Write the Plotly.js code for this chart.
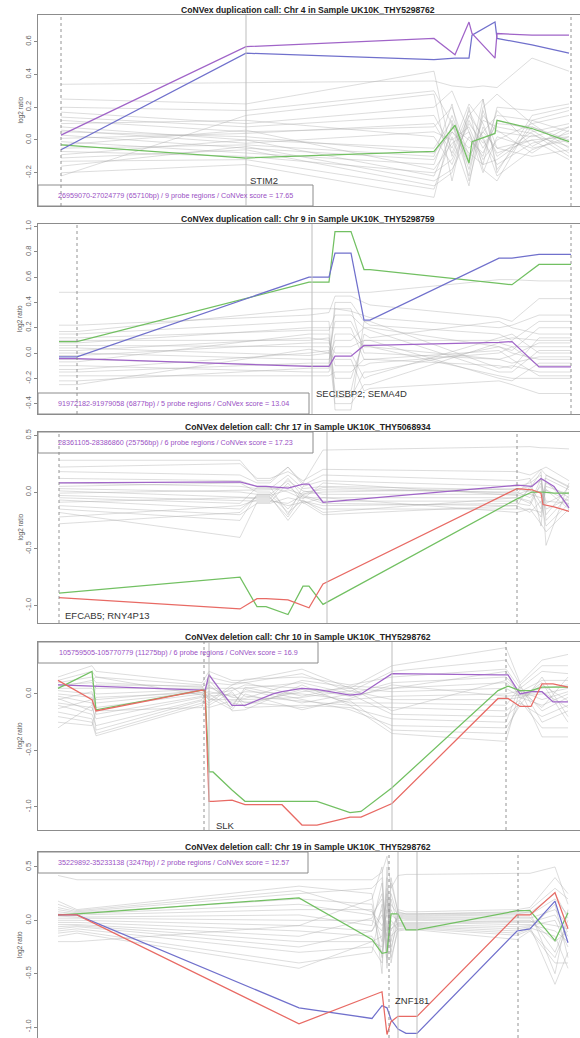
<!DOCTYPE html>
<html><head><meta charset="utf-8">
<script src="https://cdn.plot.ly/plotly-3.0.1.min.js"></script>
<style>html,body{margin:0;padding:0;overflow:hidden;background:#fff;width:580px;height:1038px}</style>
</head><body><div id="chart" style="width:582px;height:1038px"></div>
<script>
// ---------------- Panel 1: Chr 4 duplication ----------------
const p1Title = "CoNVex duplication call: Chr 4 in Sample UK10K_THY5298762";
const p1Info = "26959070-27024779 (65710bp) / 9 probe regions / CoNVex score = 17.65";
const p1Gene = "STIM2";
const p1X = [23,208,396,417,431,434,457,459,494,531];
const p1Purple = [0.03,0.57,0.62,0.52,0.72,0.65,0.50,0.65,0.64,0.64];
const p1Blue = [-0.06,0.53,0.49,0.50,0.50,0.64,0.72,0.62,0.58,0.53];
const p1Green = [-0.03,-0.11,-0.07,0.09,-0.14,-0.01,0.04,0.12,0.07,-0.01];
const p1GreyX = [23,208,396,414,431,445,459,494,531];
const p1Grey = [
 [0.34,0.35,0.36,0.33,0.32,0.33,0.32,0.50,0.42],
 [0.25,0.22,0.42,-0.10,0.15,0.25,-0.20,0.15,0.20],
 [0.20,0.18,0.30,0.10,-0.22,0.20,0.28,0.10,0.15],
 [0.17,0.10,0.20,0.30,0.05,-0.15,0.20,0.18,0.22],
 [0.14,0.08,0.15,-0.05,0.22,0.10,-0.10,0.05,0.10],
 [0.12,0.05,0.08,0.20,-0.10,0.05,0.15,0.12,0.05],
 [0.10,0.12,0.02,-0.15,0.12,-0.05,0.10,0.08,0.00],
 [0.08,0.00,-0.05,0.12,-0.18,0.15,0.05,0.02,0.08],
 [0.06,-0.02,0.05,0.00,0.08,-0.12,0.00,0.10,-0.05],
 [0.05,0.02,-0.08,0.05,-0.05,0.05,-0.05,0.00,0.02],
 [0.03,-0.05,-0.12,0.08,0.00,-0.08,0.12,0.06,-0.08],
 [0.01,0.04,0.10,-0.08,0.18,0.00,-0.15,-0.02,0.04],
 [-0.01,-0.08,-0.15,0.15,-0.12,0.12,0.08,0.04,-0.10],
 [-0.03,0.06,-0.18,-0.02,0.05,-0.20,0.02,-0.05,0.00],
 [-0.05,-0.03,-0.10,0.22,-0.25,0.08,-0.08,0.00,-0.12],
 [-0.07,-0.10,-0.20,-0.12,0.10,-0.02,0.06,-0.08,0.06],
 [-0.09,0.00,-0.22,0.05,-0.08,-0.15,-0.12,0.03,-0.04],
 [-0.11,-0.06,-0.28,-0.20,0.15,0.02,-0.22,-0.06,0.02],
 [-0.13,-0.12,-0.30,0.02,-0.28,0.18,-0.05,-0.10,-0.06],
 [-0.16,-0.04,-0.25,-0.18,0.02,-0.10,0.18,-0.04,0.08],
 [-0.20,-0.15,-0.35,0.10,-0.15,0.25,-0.18,0.08,-0.02],
 [-0.22,0.15,0.28,-0.25,0.20,-0.18,-0.25,0.12,0.18]
];
const p1Dashed = [23,533];
const p1Solid = [208];
const p1Ticks = [-0.2,0,0.2,0.4,0.6];
const p1TickText = ["-0.2","0.0","0.2","0.4","0.6"];

// ---------------- Panel 2: Chr 9 duplication ----------------
const p2Title = "CoNVex duplication call: Chr 9 in Sample UK10K_THY5298759";
const p2Info = "91972182-91979058 (6877bp) / 5 probe regions / CoNVex score = 13.04";
const p2Gene = "SECISBP2; SEMA4D";
const p2X = [21,39,271,291,297,313,326,332,461,474,501,533];
const p2Blue = [-0.03,-0.03,0.60,0.60,0.79,0.79,0.26,0.26,0.75,0.75,0.78,0.78];
const p2Green = [0.09,0.09,0.56,0.56,0.96,0.96,0.66,0.66,0.55,0.54,0.70,0.70];
const p2Purple = [-0.045,-0.045,-0.105,-0.105,-0.025,-0.025,0.06,0.06,0.085,0.09,-0.11,-0.11];
const p2GreyX = p2X;
const p2Grey = [
 [0.48,0.48,0.48,0.48,0.48,0.48,0.48,0.48,0.58,0.58,0.57,0.57],
 [0.22,0.22,0.30,0.32,0.45,0.45,0.40,0.38,0.28,0.25,0.43,0.43],
 [0.17,0.17,0.35,0.35,0.35,0.33,0.30,0.28,0.20,0.22,0.30,0.30],
 [0.15,0.15,0.25,0.25,-0.45,-0.45,0.25,0.22,0.15,0.10,0.25,0.25],
 [0.12,0.12,0.18,0.18,0.30,0.30,0.20,0.20,0.05,0.02,0.20,0.20],
 [0.10,0.10,0.10,0.12,-0.30,-0.30,0.15,0.12,0.25,0.20,0.15,0.15],
 [0.08,0.08,0.20,0.20,0.20,0.20,-0.05,-0.05,-0.10,-0.12,0.12,0.12],
 [0.06,0.06,0.05,0.05,-0.20,-0.20,0.10,0.10,0.10,0.12,0.10,0.10],
 [0.04,0.04,-0.02,0.00,0.25,0.25,0.05,0.05,-0.05,-0.02,0.08,0.08],
 [0.02,0.02,0.12,0.10,-0.10,-0.10,-0.10,-0.08,0.00,0.05,0.05,0.05],
 [0.00,0.00,-0.05,-0.05,0.10,0.10,0.20,0.18,-0.15,-0.15,0.02,0.02],
 [-0.02,-0.02,0.08,0.08,0.00,0.00,-0.20,-0.18,0.12,0.15,0.00,0.00],
 [-0.05,-0.05,-0.10,-0.10,0.35,0.35,0.00,0.00,-0.05,-0.08,-0.03,-0.03],
 [-0.07,-0.07,0.15,0.15,-0.35,-0.35,-0.15,-0.15,0.05,0.00,-0.05,-0.05],
 [-0.10,-0.10,-0.15,-0.15,0.05,0.05,0.10,0.10,-0.20,-0.22,-0.08,-0.08],
 [-0.13,-0.13,0.00,0.02,-0.40,-0.40,-0.25,-0.25,0.08,0.05,-0.10,-0.10],
 [-0.15,-0.15,-0.08,-0.08,0.40,0.40,0.25,0.25,-0.12,-0.10,-0.15,-0.15],
 [-0.18,-0.18,-0.18,-0.18,-0.15,-0.15,-0.05,-0.05,0.02,-0.05,-0.18,-0.18],
 [-0.22,-0.22,-0.12,-0.12,0.15,0.15,0.05,0.05,-0.18,-0.20,-0.20,-0.20],
 [-0.25,-0.25,0.03,0.00,-0.05,-0.05,-0.30,-0.28,-0.22,-0.25,-0.32,-0.32]
];
const p2Dashed = [39,533];
const p2Solid = [274];
const p2Ticks = [-0.4,-0.2,0,0.2,0.4,0.6,0.8,1.0];
const p2TickText = ["-0.4","-0.2","0.0","0.2","0.4","0.6","0.8","1.0"];

// ---------------- Panel 3: Chr 17 deletion ----------------
const p3Title = "CoNVex deletion call: Chr 17 in Sample UK10K_THY5068934";
const p3Info = "28361105-28386860 (25756bp) / 6 probe regions / CoNVex score = 17.23";
const p3Gene = "EFCAB5; RNY4P13";
const p3X = [21,202,219,228,250,265,271,285,479,494,503,505,516,531];
const p3Red = [-0.93,-1.03,-0.94,-0.94,-0.95,-1.00,-1.02,-0.81,0.03,0.02,-0.01,-0.11,-0.13,-0.17];
const p3Green = [-0.89,-0.75,-1.01,-1.01,-1.08,-0.83,-0.83,-0.99,-0.06,0.00,0.00,0.00,-0.01,-0.01];
const p3Purple = [0.08,0.09,0.05,0.05,0.035,0.07,0.07,-0.09,0.06,0.05,0.12,0.11,0.05,-0.14];
const p3GreyX = [21,202,219,232,250,265,285,479,492,503,508,531];
const p3Grey = [
 [0.28,0.28,0.10,0.10,0.22,0.08,0.37,0.40,0.40,0.39,0.39,0.38],
 [0.22,0.25,0.12,0.12,0.18,0.10,0.20,0.18,0.15,0.20,0.22,0.10],
 [0.18,0.15,0.08,0.08,0.22,0.06,0.15,0.10,0.12,-0.30,0.15,0.05],
 [0.12,0.10,0.05,0.05,-0.20,0.05,0.10,0.05,0.08,0.15,-0.47,0.08],
 [0.08,0.05,0.03,0.03,0.15,0.03,0.05,0.02,0.05,0.10,0.12,0.02],
 [0.05,0.08,0.00,0.00,-0.15,0.00,0.02,0.00,-0.05,0.05,-0.20,0.05],
 [0.03,0.00,-0.02,-0.02,0.10,0.01,-0.02,-0.02,0.02,-0.15,0.05,-0.02],
 [0.01,-0.05,-0.05,-0.05,-0.22,-0.02,0.00,0.03,0.00,0.00,-0.10,0.00],
 [-0.01,0.02,0.02,0.02,0.05,-0.05,-0.05,-0.05,-0.08,-0.22,0.08,-0.05],
 [-0.03,-0.08,-0.08,-0.08,-0.10,-0.03,-0.08,-0.08,0.03,0.18,-0.25,-0.03],
 [-0.05,-0.10,0.04,0.04,0.00,-0.06,0.08,-0.03,-0.02,-0.05,0.02,-0.08],
 [-0.07,-0.15,-0.04,-0.04,-0.25,-0.08,-0.12,-0.10,-0.12,0.08,-0.08,-0.10],
 [-0.09,-0.05,-0.06,-0.06,0.12,-0.04,-0.10,-0.12,0.05,-0.10,0.10,-0.12],
 [-0.12,-0.20,-0.10,-0.10,-0.05,-0.08,-0.15,-0.15,-0.15,-0.28,-0.35,-0.15],
 [-0.15,-0.25,-0.02,-0.02,-0.18,-0.07,-0.18,-0.05,-0.10,0.12,-0.15,-0.06],
 [-0.18,-0.40,-0.09,-0.09,0.08,-0.10,-0.05,-0.18,-0.15,-0.18,0.02,-0.15],
 [-0.22,-0.12,-0.07,-0.07,-0.12,-0.09,-0.20,-0.12,-0.18,-0.08,-0.30,-0.10],
 [-0.28,-0.18,-0.03,-0.03,0.02,-0.02,0.04,-0.01,0.10,0.20,0.15,0.04]
];
const p3Dashed = [21,479];
const p3Solid = [289];
const p3Ticks = [-1.0,-0.5,0,0.5];
const p3TickText = ["-1.0","-0.5","0.0","0.5"];

// ---------------- Panel 4: Chr 10 deletion ----------------
const p4Title = "CoNVex deletion call: Chr 10 in Sample UK10K_THY5298762";
const p4Info = "105759505-105770779 (11275bp) / 6 probe regions / CoNVex score = 16.9";
const p4Gene = "SLK";
const p4X = [20,54,58,164,167,171,175,194,207,235,244,264,279,312,323,354,460,470,482,493,504,515,530];
const p4Red = [0.12,-0.05,-0.15,0.035,0.03,-0.95,-0.95,-0.94,-0.98,-0.98,-0.98,-1.16,-1.16,-1.09,-1.09,-0.97,-0.04,-0.04,-0.11,-0.11,0.09,0.09,0.06];
const p4Green = [0.05,0.20,-0.14,0.035,0.03,-0.69,-0.69,-0.85,-0.95,-0.95,-0.95,-0.95,-0.95,-1.05,-1.04,-0.83,0.03,0.07,0.03,0.03,0.06,0.06,0.06];
const p4Purple = [0.08,0.07,0.07,0.035,0.03,0.17,0.12,-0.10,-0.10,0.00,0.02,0.05,0.04,-0.01,0.00,0.18,0.17,0.17,0.00,0.02,0.02,-0.07,-0.07];
const p4GreyX = [20,54,58,164,171,194,207,264,312,354,468,482,504,530];
const p4Grey = [
 [0.15,0.25,0.20,0.10,0.20,0.12,0.12,0.22,0.05,0.25,0.41,0.10,0.30,0.35],
 [0.12,0.20,0.15,0.08,0.15,0.10,0.10,0.18,0.02,0.20,0.30,0.08,0.25,0.25],
 [0.10,0.15,0.10,0.06,0.10,0.08,0.13,0.15,0.08,0.15,0.22,0.05,0.20,0.18],
 [0.08,0.10,0.05,0.05,0.05,0.05,0.05,0.10,0.00,0.10,0.15,0.02,0.12,0.12],
 [0.05,0.05,0.00,0.04,0.00,0.03,0.08,0.05,-0.02,0.05,0.10,0.00,0.05,0.08],
 [0.03,0.00,-0.05,0.03,-0.02,0.00,-0.08,0.02,0.05,0.02,0.05,-0.02,0.00,0.05],
 [0.00,-0.03,-0.08,0.02,0.02,-0.02,0.02,0.00,-0.05,-0.02,0.00,0.03,-0.05,0.02],
 [-0.02,-0.08,-0.12,0.00,-0.05,-0.05,-0.05,-0.03,0.03,-0.05,-0.05,-0.03,-0.10,0.00],
 [-0.05,0.02,-0.18,-0.02,0.08,-0.08,-0.10,0.04,-0.08,-0.08,-0.10,0.06,-0.15,-0.03],
 [-0.08,-0.12,-0.22,-0.03,-0.08,0.06,-0.02,-0.06,-0.10,-0.12,-0.15,-0.05,0.08,-0.06],
 [-0.10,-0.18,-0.28,-0.05,0.12,-0.10,0.04,-0.08,0.00,-0.18,-0.20,-0.08,-0.20,-0.10],
 [-0.13,-0.05,-0.32,-0.06,-0.10,0.02,-0.12,-0.10,-0.12,-0.22,-0.25,0.08,-0.25,-0.15],
 [-0.16,-0.22,-0.35,-0.08,0.00,-0.12,0.06,-0.05,-0.14,-0.28,-0.30,-0.10,0.15,-0.20],
 [-0.20,-0.25,-0.37,-0.10,-0.12,-0.06,-0.07,-0.12,-0.06,-0.32,-0.35,-0.06,-0.30,-0.30],
 [-0.25,-0.28,-0.15,-0.12,0.18,-0.15,-0.14,0.08,-0.10,-0.35,-0.42,0.04,-0.38,-0.38],
 [-0.30,-0.10,0.08,0.07,-0.06,0.08,0.10,-0.02,0.07,0.05,0.20,-0.04,0.10,-0.25],
 [0.06,0.12,0.15,-0.01,0.06,-0.03,-0.04,0.12,0.06,-0.15,0.12,0.02,-0.12,0.15],
 [-0.04,-0.15,-0.03,0.01,-0.03,-0.14,0.00,-0.14,-0.04,0.08,-0.02,-0.01,0.02,-0.12]
];
const p4Dashed = [166,468];
const p4Solid = [171,354];
const p4Ticks = [-1.0,-0.5,0];
const p4TickText = ["-1.0","-0.5","0.0"];

// ---------------- Panel 5: Chr 19 deletion ----------------
const p5Title = "CoNVex deletion call: Chr 19 in Sample UK10K_THY5298762";
const p5Info = "35229892-35233138 (3247bp) / 2 probe regions / CoNVex score = 12.57";
const p5Gene = "ZNF181";
const p5X = [20,39,261,334,344,349,353,360,368,379,479,492,517,530];
const p5Red = [0.05,0.05,-0.97,-0.71,-0.67,-1.07,-0.95,-0.90,-0.90,-0.90,0.05,0.05,0.26,-0.08];
const p5Blue = [0.05,0.05,-0.82,-0.92,-0.80,-0.82,-0.93,-1.02,-1.06,-1.06,-0.10,-0.08,0.18,-0.21];
const p5Green = [0.05,0.06,0.21,-0.18,-0.31,-0.30,0.06,0.06,-0.09,-0.09,0.09,0.09,-0.19,0.07];
const p5GreyX = p5X;
const p5Grey = [
 [0.42,0.38,0.38,0.38,0.45,0.60,0.30,0.42,0.43,0.43,0.44,0.44,0.50,0.15],
 [0.18,0.10,0.32,0.25,-0.50,0.50,-0.20,0.10,0.08,0.08,0.10,0.12,0.40,0.25],
 [0.12,0.08,0.25,0.30,0.40,-0.45,0.35,0.08,0.06,0.06,0.08,0.10,0.30,0.20],
 [0.10,0.07,0.20,0.15,-0.35,0.30,-0.30,0.06,0.05,0.05,0.06,0.08,-0.50,0.10],
 [0.08,0.06,0.15,0.05,0.20,-0.30,0.15,0.05,0.04,0.04,0.05,0.05,0.20,0.05],
 [0.06,0.05,0.10,0.10,-0.20,0.10,-0.10,0.04,0.03,0.03,0.03,0.03,-0.30,0.00],
 [0.04,0.03,0.05,-0.05,0.35,-0.20,0.25,0.03,0.02,0.02,0.02,0.02,0.10,-0.05],
 [0.02,0.02,0.00,0.00,-0.10,0.20,-0.05,0.02,0.01,0.01,0.00,0.00,-0.20,-0.10],
 [0.00,0.00,-0.05,-0.10,0.10,-0.40,0.05,0.00,0.00,0.00,-0.02,-0.02,0.05,-0.15],
 [-0.02,-0.02,-0.10,-0.15,-0.30,0.00,-0.25,-0.02,-0.02,-0.02,-0.04,-0.04,-0.10,-0.20],
 [-0.04,-0.04,-0.15,0.02,0.25,-0.10,0.10,-0.04,-0.04,-0.04,-0.06,-0.05,0.00,-0.25],
 [-0.06,-0.05,-0.20,-0.20,-0.25,0.40,-0.40,-0.05,-0.05,-0.05,-0.08,-0.06,-0.60,-0.30],
 [-0.08,-0.06,-0.25,-0.10,0.05,-0.15,0.20,-0.06,-0.06,-0.06,-0.10,-0.07,-0.15,-0.45],
 [-0.10,-0.08,-0.30,-0.25,-0.40,0.15,-0.15,-0.08,-0.07,-0.07,-0.12,-0.08,0.15,-0.35],
 [-0.12,-0.10,-0.40,-0.30,0.15,-0.25,0.00,-0.09,-0.08,-0.08,-0.14,-0.09,-0.35,-0.05],
 [-0.15,-0.12,-0.45,-0.20,-0.15,0.25,-0.35,-0.10,-0.09,-0.09,-0.18,-0.10,-0.40,-0.40],
 [-0.20,-0.20,-0.05,0.20,0.50,-0.35,0.40,0.07,0.06,0.06,0.07,0.07,0.25,0.02],
 [0.15,0.09,0.28,0.08,-0.05,0.05,-0.08,-0.03,-0.03,-0.03,-0.01,-0.01,-0.05,-0.08]
];
const p5Dashed = [351,480];
const p5Solid = [360,379];
const p5Ticks = [-1.0,-0.5,0,0.5];
const p5TickText = ["-1.0","-0.5","0.0","0.5"];

// ---------------- styling / layout ----------------
const COL = {purple:'#a064c8', blue:'#7070cc', green:'#72c062', red:'#e86a64', grey:'rgba(175,175,175,0.42)'};
const FONT = 'Liberation Sans, Arial, Helvetica, sans-serif';
const H = 1038;
const PW = 544; // plot width in px (38..582, right edge just outside the 580 window)
const panels = [
  {title:p1Title, info:p1Info, gene:p1Gene, x:p1X, greyX:p1GreyX, grey:p1Grey,
   lines:[[p1Green,'green'],[p1Blue,'blue'],[p1Purple,'purple']],
   dashed:p1Dashed, solid:p1Solid, ticks:p1Ticks, tickText:p1TickText,
   top:15, bottom:206, range:[-0.403,0.763], infoTop:false, infoW:275, geneY:-0.245, geneShift:2},
  {title:p2Title, info:p2Info, gene:p2Gene, x:p2X, greyX:p2GreyX, grey:p2Grey,
   lines:[[p2Purple,'purple'],[p2Green,'green'],[p2Blue,'blue']],
   dashed:p2Dashed, solid:p2Solid, ticks:p2Ticks, tickText:p2TickText,
   top:224, bottom:414, range:[-0.482,1.02], infoTop:false, infoW:271, geneY:-0.316, geneShift:2},
  {title:p3Title, info:p3Info, gene:p3Gene, x:p3X, greyX:p3GreyX, grey:p3Grey,
   lines:[[p3Purple,'purple'],[p3Green,'green'],[p3Red,'red']],
   dashed:p3Dashed, solid:p3Solid, ticks:p3Ticks, tickText:p3TickText,
   top:432, bottom:623, range:[-1.154,0.529], infoTop:true, infoW:275, geneY:-1.084, geneShift:4},
  {title:p4Title, info:p4Info, gene:p4Gene, x:p4X, greyX:p4GreyX, grey:p4Grey,
   lines:[[p4Purple,'purple'],[p4Green,'green'],[p4Red,'red']],
   dashed:p4Dashed, solid:p4Solid, ticks:p4Ticks, tickText:p4TickText,
   top:642, bottom:830, range:[-1.204,0.46], infoTop:true, infoW:280, geneY:-1.16, geneShift:5},
  {title:p5Title, info:p5Info, gene:p5Gene, x:p5X, greyX:p5GreyX, grey:p5Grey,
   lines:[[p5Green,'green'],[p5Blue,'blue'],[p5Red,'red']],
   dashed:p5Dashed, solid:p5Solid, ticks:p5Ticks, tickText:p5TickText,
   top:852, bottom:1038, range:[-1.103,0.64], infoTop:true, infoW:270, geneY:-0.747, geneShift:4}
];
const geneX = [p1Solid[0], p2Solid[0], p3Dashed[0], p4Solid[0], p5Dashed[0]];

const traces = [];
const layout = {
  width:582, height:H, margin:{l:38,r:0,t:0,b:0}, showlegend:false,
  paper_bgcolor:'#ffffff', plot_bgcolor:'#ffffff', font:{family:FONT},
  shapes:[], annotations:[]
};

panels.forEach((p,i)=>{
  const n = i+1, sx = n===1?'':String(n);
  const xa = 'x'+sx, ya = 'y'+sx;
  p.grey.forEach(row=>{
    traces.push({type:'scatter', mode:'lines', x:p.greyX, y:row, xaxis:xa, yaxis:ya,
      line:{color:COL.grey, width:1}, hoverinfo:'skip'});
  });
  p.lines.forEach(([vals,c])=>{
    traces.push({type:'scatter', mode:'lines', x:p.x, y:vals, xaxis:xa, yaxis:ya,
      line:{color:COL[c], width:1.25}});
  });
  const dom = [1 - p.bottom/H, 1 - p.top/H];
  layout['xaxis'+sx] = {domain:[0,1], range:[0,PW], anchor:ya, showline:true, mirror:true,
    linecolor:'#8c8c8c', linewidth:1, showticklabels:false, ticks:'', showgrid:false, zeroline:false, fixedrange:true};
  layout['yaxis'+sx] = {domain:dom, range:p.range, anchor:xa, showline:true, mirror:true,
    linecolor:'#8c8c8c', linewidth:1, showgrid:false, zeroline:false, tickvals:p.ticks, ticktext:p.tickText,
    ticks:'outside', ticklen:3, tickcolor:'#888', tickangle:-90, automargin:false,
    tickfont:{size:7.5, color:'#666', family:FONT}};
  // info box
  const h = 21/(p.bottom-p.top);
  const w = p.infoW/PW;
  const y0 = p.infoTop ? 1-h : 0, y1 = p.infoTop ? 1 : h;
  layout.shapes.push({type:'rect', xref:xa+' domain', yref:ya+' domain', x0:0, x1:w, y0:y0, y1:y1,
    line:{color:'#8c8c8c', width:1}, fillcolor:'#ffffff', layer:'above'});
  p.solid.forEach(v=>layout.shapes.push({type:'line', xref:xa, yref:ya+' domain', x0:v, x1:v, y0:0, y1:1,
    line:{color:'#bdbdbd', width:1}, layer:'above'}));
  p.dashed.forEach(v=>layout.shapes.push({type:'line', xref:xa, yref:ya+' domain', x0:v, x1:v, y0:0, y1:1,
    line:{color:'#888', width:0.9, dash:'dot'}, layer:'above'}));
  layout.annotations.push({xref:xa+' domain', yref:ya+' domain', x:w/2, y:(y0+y1)/2,
    xanchor:'center', yanchor:'middle', showarrow:false, text:p.info,
    font:{size:7.2, color:'#9a50c4', family:FONT}});
  layout.annotations.push({xref:'paper', yref:ya+' domain', x:270/PW, y:1, xanchor:'center', yanchor:'bottom',
    yshift:-2, showarrow:false, text:'<b>'+p.title+'</b>', font:{size:8.6, color:'#222', family:FONT}});
  layout.annotations.push({xref:xa, yref:ya, x:geneX[i], y:p.geneY, xanchor:'left', yanchor:'middle',
    xshift:p.geneShift, showarrow:false, text:p.gene, font:{size:9.5, color:'#333', family:FONT}});
  layout.annotations.push({xref:'paper', yref:ya+' domain', x:-18/PW, y:0.5, xanchor:'center', yanchor:'middle',
    textangle:-90, showarrow:false, text:'log2 ratio', font:{size:6.5, color:'#555', family:FONT}});
});

Plotly.newPlot('chart', traces, layout, {staticPlot:true, displayModeBar:false});
</script></body></html>
